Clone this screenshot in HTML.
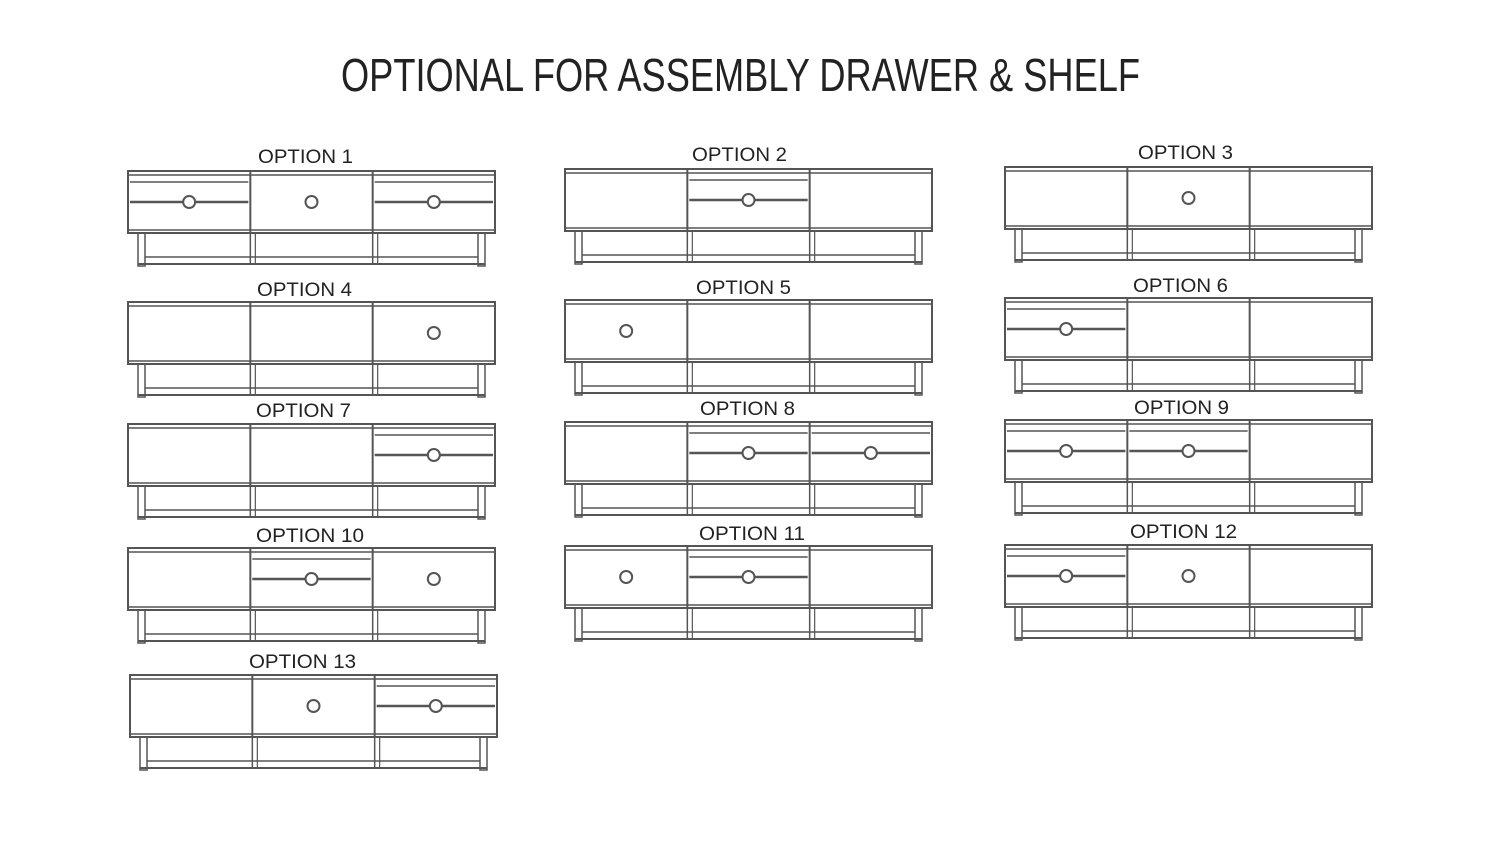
<!DOCTYPE html>
<html><head><meta charset="utf-8"><style>
html,body{margin:0;padding:0;background:#fff}
svg{display:block}
text{font-family:"Liberation Sans",Arial,sans-serif;fill:#222}
</style></head><body>
<svg id="s" width="1500" height="844" viewBox="0 0 1500 844" xmlns="http://www.w3.org/2000/svg">
<text x="341" y="91" font-size="46" textLength="799" lengthAdjust="spacingAndGlyphs">OPTIONAL FOR ASSEMBLY DRAWER &amp; SHELF</text>
<text x="258" y="163" font-size="19" textLength="95" lengthAdjust="spacingAndGlyphs">OPTION 1</text>
<text x="692" y="161" font-size="19" textLength="95" lengthAdjust="spacingAndGlyphs">OPTION 2</text>
<text x="1138" y="159" font-size="19" textLength="95" lengthAdjust="spacingAndGlyphs">OPTION 3</text>
<text x="257" y="296" font-size="19" textLength="95" lengthAdjust="spacingAndGlyphs">OPTION 4</text>
<text x="696" y="294" font-size="19" textLength="95" lengthAdjust="spacingAndGlyphs">OPTION 5</text>
<text x="1133" y="292" font-size="19" textLength="95" lengthAdjust="spacingAndGlyphs">OPTION 6</text>
<text x="256" y="417" font-size="19" textLength="95" lengthAdjust="spacingAndGlyphs">OPTION 7</text>
<text x="700" y="415" font-size="19" textLength="95" lengthAdjust="spacingAndGlyphs">OPTION 8</text>
<text x="1134" y="414" font-size="19" textLength="95" lengthAdjust="spacingAndGlyphs">OPTION 9</text>
<text x="256" y="542" font-size="19" textLength="108" lengthAdjust="spacingAndGlyphs">OPTION 10</text>
<text x="699" y="540" font-size="19" textLength="106" lengthAdjust="spacingAndGlyphs">OPTION 11</text>
<text x="1130" y="538" font-size="19" textLength="107" lengthAdjust="spacingAndGlyphs">OPTION 12</text>
<text x="249" y="668" font-size="19" textLength="107" lengthAdjust="spacingAndGlyphs">OPTION 13</text>
<g id="g" fill="none" stroke="#555" stroke-width="2"></g>
</svg>
<script>
var units=[
[128,171,"DKD"],[565,169,"ODO"],[1005,167,"OKO"],
[128,302,"OOK"],[565,300,"KOO"],[1005,298,"DOO"],
[128,424,"OOD"],[565,422,"ODD"],[1005,420,"DDO"],
[128,548,"ODK"],[565,546,"KDO"],[1005,545,"DKO"],
[130,675,"OKD"]];
var h='';
function L(a,b,c,d,w){h+='<line x1="'+a+'" y1="'+b+'" x2="'+c+'" y2="'+d+'"'+(w?' stroke-width="'+w+'"':'')+'/>';}
units.forEach(function(u){
 var x=u[0],y=u[1],W=367,H=62,cw=W/3;
 h+='<rect x="'+x+'" y="'+y+'" width="'+W+'" height="'+H+'"/>';
 L(x,y+4,x+W,y+4,1.5);L(x,y+H-3,x+W,y+H-3,1.5);
 for(var i=1;i<3;i++){L(x+cw*i,y,x+cw*i,y+H);L(x+cw*i,y+H,x+cw*i,y+92,1.5);L(x+cw*i+5,y+H,x+cw*i+5,y+92,1.2);}
 // legs
 h+='<rect x="'+(x+10)+'" y="'+(y+H)+'" width="7" height="33" stroke-width="1.5"/>';
 h+='<rect x="'+(x+W-17)+'" y="'+(y+H)+'" width="7" height="33" stroke-width="1.5"/>';
 L(x+17,y+86,x+W-17,y+86,1.5);L(x+10,y+93,x+W-10,y+93,2);
 for(var j=0;j<3;j++){
  var t=u[2][j],cx=x+cw*j+cw/2;
  if(t=="K"){h+='<circle cx="'+cx+'" cy="'+(y+31)+'" r="6"/>';}
  if(t=="D"){var x0=x+cw*j+2,x1=x+cw*(j+1)-2;L(x0,y+11,x1,y+11,1.5);L(x0,y+31,x1,y+31,2.5);h+='<circle cx="'+cx+'" cy="'+(y+31)+'" r="6" fill="#fff"/>';}
 }
});
document.getElementById('g').innerHTML=h;
</script>
</body></html>
